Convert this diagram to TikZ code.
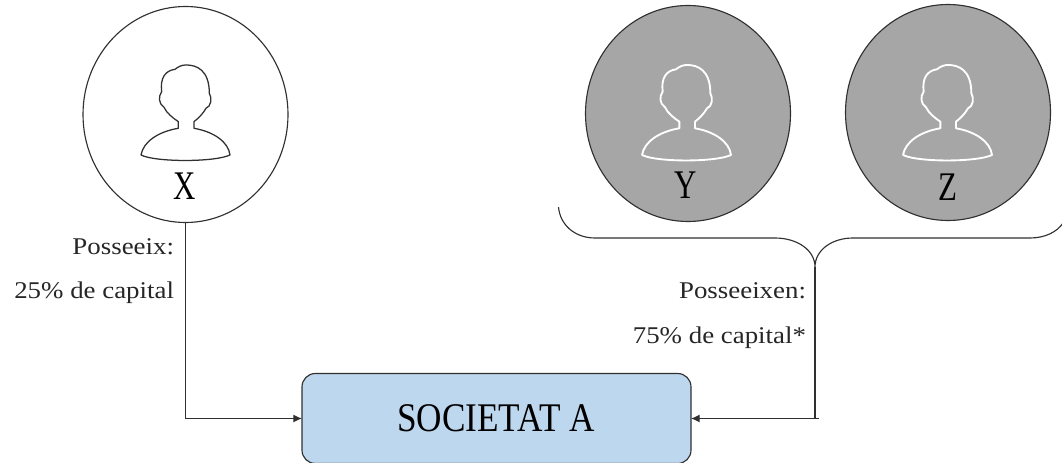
\documentclass[tikz,border=0pt]{standalone}
\usepackage{fontspec}
\setmainfont{Liberation Serif}
\newfontfamily\wideserif[FakeStretch=1.12]{Liberation Serif}
\newfontfamily\narrowserif[FakeStretch=0.865]{Liberation Serif}
\newfontfamily\tallserif[FakeStretch=0.76]{Liberation Serif}
\usetikzlibrary{shapes.geometric,arrows.meta}
\definecolor{boxblue}{HTML}{BDD7EE}
\definecolor{greyfill}{HTML}{A6A6A6}
\definecolor{lineink}{HTML}{303030}
\tikzset{
  x=0.75pt,y=-0.75pt,
  every node/.style={inner sep=0pt,outer sep=0pt},
  person/.style={ellipse,draw=lineink,line width=0.85pt,minimum width=153.75pt,minimum height=162pt},
  personwhite/.style={person,fill=white},
  persongrey/.style={person,fill=greyfill},
  bust/.pic={
    \draw[pic actions,scale=1/3,line join=round]
      (3,-145) .. controls (35,-145) and (73,-130) .. (73,-60)
      .. controls (82,-45) and (78,-20) .. (63,-15)
      .. controls (55,0) and (40,15) .. (27,25)
      -- (27,45)
      .. controls (85,55) and (130,85) .. (135,125)
      .. controls (90,147) and (-90,147) .. (-132,125)
      .. controls (-125,85) and (-80,55) .. (-20,45)
      -- (-20,25)
      .. controls (-35,15) and (-55,0) .. (-63,-18)
      .. controls (-80,-30) and (-80,-50) .. (-70,-65)
      .. controls (-75,-105) and (-60,-128) .. (-30,-132)
      .. controls (-20,-140) and (-10,-145) .. (3,-145) -- cycle;
  },
  letter/.style={font=\tallserif\fontsize{30.5pt}{30.5pt}\selectfont,text=black,anchor=base},
  note/.style={font=\wideserif\fontsize{18pt}{18pt}\selectfont,text=black!85,anchor=base east},
  conn/.style={draw=lineink,line width=0.85pt},
  arrowconn/.style={conn,-{Latex[length=6.5pt,width=6pt]}},
}
\begin{document}
\begin{tikzpicture}
\useasboundingbox (0,0) rectangle (1062,463);
\node[personwhite] (x) at (185.5,114.5) {};
\node[persongrey] (y) at (688,113.5) {};
\node[persongrey] (z) at (948,112.5) {};
\pic[draw=lineink,line width=0.95pt] at (185,113.3) {bust};
\pic[draw=white,line width=1.4pt] at (686,113.3) {bust};
\pic[draw=white,line width=1.4pt] at (947,113.3) {bust};
\node[letter] (xl) at (185,199.5) {X};
\node[letter] (yl) at (686,198.5) {Y};
\node[letter] (zl) at (948,200) {Z};
\node[rectangle,rounded corners=10pt,draw=lineink,line width=0.85pt,fill=boxblue,minimum width=291.75pt,minimum height=67.5pt] (box) at (496.5,418.5) {};
\node[font=\narrowserif\fontsize{30.5pt}{30.5pt}\selectfont,anchor=base] (boxlabel) at (496,431) {SOCIETAT A};
\coordinate (tip) at (815,267);
\coordinate (over) at (819,418.5);
\draw[conn] (558.5,207) .. controls (560,225) and (575,238) .. (595,238) -- (775,238)
  .. controls (797,238) and (815,250) .. (tip)
  .. controls (815,250) and (832,238) .. (853,238) -- (1030,238)
  .. controls (1045,238) and (1057,232) .. (1063,223);
\draw[arrowconn] (x.south) |- (box.west);
\draw[conn] (tip) -- (tip |- over);
\draw[arrowconn] (over) -- (box.east);
\node[note] (n1) at (174,254) {Posseeix:};
\node[note] (n2) at (174,298) {25\% de capital};
\node[note] (n3) at (806,298) {Posseeixen:};
\node[note] (n4) at (806,343) {75\% de capital*};
\end{tikzpicture}
\end{document}
